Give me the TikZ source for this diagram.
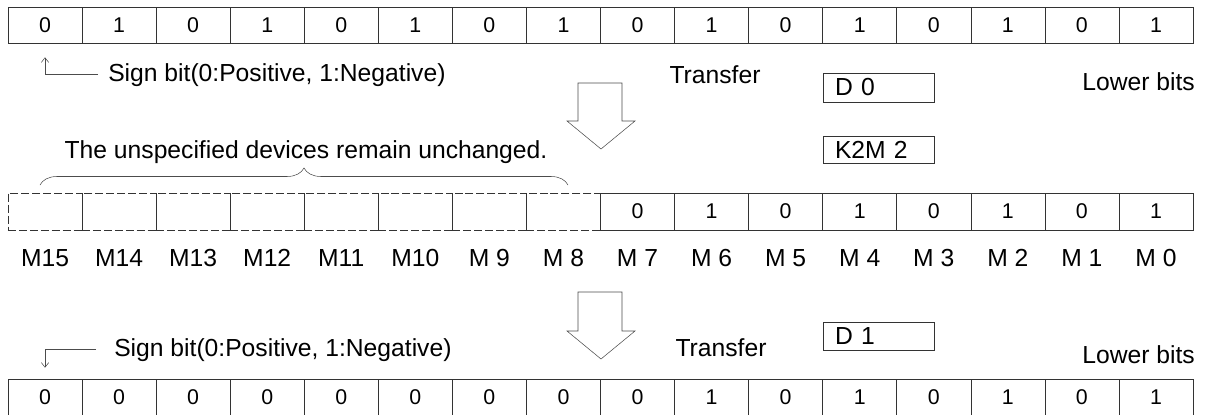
\documentclass[tikz,border=0pt]{standalone}
\usepackage{fontspec}
\setmainfont{Liberation Sans}
\usetikzlibrary{positioning,arrows.meta,decorations.pathreplacing}

\begin{document}
\begin{tikzpicture}[
  x=0.75pt, y=-0.75pt,
  cell/.style={draw=black!80, minimum width=55.55pt, minimum height=27pt, inner sep=0pt, font=\fontsize{16}{19}\selectfont},
  freecell/.style={cell, dash pattern=on 6pt off 2.2pt},
  lbl/.style={inner sep=0pt, font=\fontsize{18.5}{22}\selectfont},
  reg/.style={draw=black!80, minimum width=83.25pt, text width=65.25pt, inner xsep=9pt, inner ysep=0pt, align=left, font=\fontsize{18.5}{22}\selectfont},
  sgn/.style={draw=black!70, -{Straight Barb[length=3.5pt,width=5.5pt]}},
  hollow/.style={draw=black!70, fill=white, line join=miter}
]
\useasboundingbox (0,0) rectangle (1212,414);

% source word D0
\foreach \i in {0,...,15}{
  \pgfmathtruncatemacro\b{15-\i}
  \pgfmathtruncatemacro\v{mod(\i,2)}
  \pgfmathsetmacro\x{45.03+74.06*\i}
  \node[cell] (t\b) at (\x,25) {\v};
}
\node[lbl, anchor=base west] (sgn1) at (108,81) {Sign bit(0:Positive, 1:Negative)};
\node[lbl, anchor=base] (xfer1) at (715,83) {Transfer};
\node[lbl, anchor=base east] (low1) at (1195,90) {Lower bits};
\node[reg, minimum height=21.75pt] (d0) at (878.5,87.5) {D 0};
\node[reg, minimum height=20.25pt] (k2m) at (878.5,149.5) {K2M 2};
\draw[sgn] ([xshift=-7.5pt]sgn1.west) -| ([yshift=-10.5pt]t15.south);

% first transfer
\draw[hollow] (578,83) -- (622,83) -- (622,121) -- (635,121) -- (601,149)
  -- (567,121) -- (578,121) -- cycle;

% bit devices M15..M0
\foreach \i in {0,...,15}{
  \pgfmathtruncatemacro\b{15-\i}
  \pgfmathtruncatemacro\v{mod(\i,2)}
  \pgfmathsetmacro\x{45.03+74.06*\i}
  \ifnum\i<8
    \node[freecell, minimum height=27.75pt] (m\b) at (\x,211.5) {};
  \else
    \node[cell, minimum height=27.75pt] (m\b) at (\x,211.5) {\v};
  \fi
  \ifnum\b>9
    \node[lbl, anchor=base] (l\b) at (\x,266) {M\b};
  \else
    \node[lbl, anchor=base] (l\b) at (\x,266) {M \b};
  \fi
}
\draw[draw=black!70, decorate, decoration={brace, amplitude=12.75pt}]
  (40,185) -- (568,185);
\node[lbl, anchor=base] (keep) at (306,158) {The unspecified devices remain unchanged.};

% second transfer
\draw[hollow] (578,292) -- (622,292) -- (622,331) -- (635,331) -- (601,359)
  -- (567,331) -- (578,331) -- cycle;
\node[lbl, anchor=base west] (sgn2) at (114,356) {Sign bit(0:Positive, 1:Negative)};
\node[lbl, anchor=base] (xfer2) at (721,356) {Transfer};
\node[lbl, anchor=base east] (low2) at (1195,363) {Lower bits};
\node[reg, minimum height=21pt] (d1) at (878.5,336) {D 1};

% destination word D1
\foreach \i in {0,...,15}{
  \pgfmathtruncatemacro\b{15-\i}
  \pgfmathtruncatemacro\v{\i<8 ? 0 : mod(\i,2)}
  \pgfmathsetmacro\x{45.03+74.06*\i}
  \node[cell] (b\b) at (\x,397) {\v};
}
\draw[sgn] ([xshift=-13.5pt]sgn2.west) -| ([yshift=8.25pt]b15.north);
\end{tikzpicture}
\end{document}
